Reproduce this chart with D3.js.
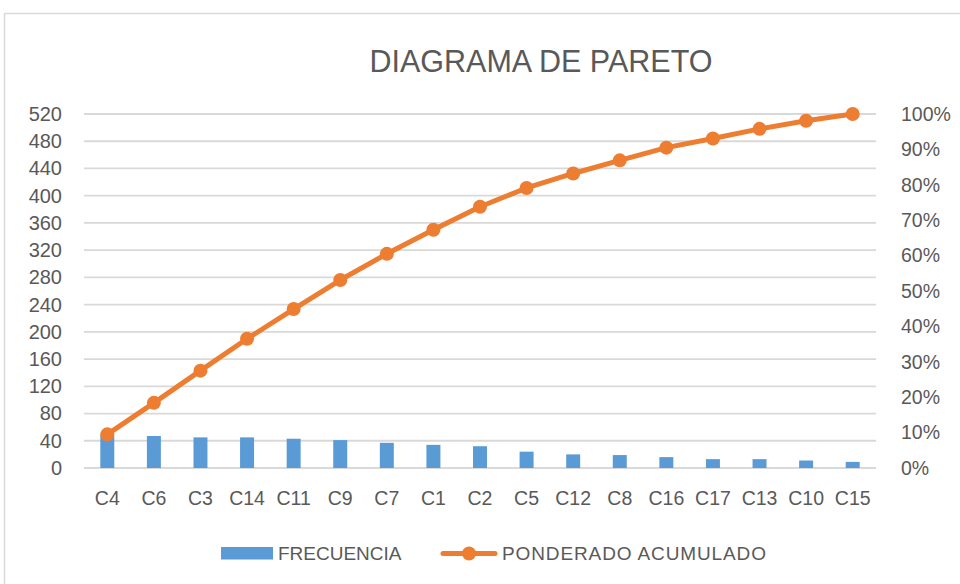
<!DOCTYPE html>
<html>
<head>
<meta charset="utf-8">
<script src="https://cdn.jsdelivr.net/npm/d3@7"></script>
<style>
  body { margin: 0; background: #fff; }
  text { font-family: "Liberation Sans", Arial, sans-serif; fill: #595959; }
</style>
</head>
<body>
<div id="chart"></div>
<script>
// Data
var categories = ["C4", "C6", "C3", "C14", "C11", "C9", "C7", "C1", "C2",
                  "C5", "C12", "C8", "C16", "C17", "C13", "C10", "C15"];
var frecuencia = [48, 47, 45, 45, 43, 41, 37, 34, 32, 24, 20, 19, 16, 13, 13, 11, 9];
var acumulado = [0.095, 0.184, 0.275, 0.365, 0.449, 0.531, 0.605, 0.673, 0.738,
                 0.791, 0.832, 0.869, 0.905, 0.931, 0.958, 0.981, 1.0];
var leftTicks = d3.range(0, 521, 40);
var rightTicks = d3.range(0, 1.001, 0.1);

var width = 960,
    height = 584,
    plot = { left: 84, right: 876, top: 114, bottom: 468 };

var barColor = "#5B9BD5",
    lineColor = "#ED7D31",
    gridColor = "#D9D9D9";

var svg = d3.select("#chart").append("svg")
    .attr("width", width)
    .attr("height", height);

// chart frame
svg.append("rect")
    .attr("x", 4.5)
    .attr("y", 13.5)
    .attr("width", 970)
    .attr("height", 600)
    .attr("fill", "#fff")
    .attr("stroke", gridColor)
    .attr("stroke-width", 1.5);

var x = d3.scaleBand()
    .domain(categories)
    .range([plot.left, plot.right])
    .paddingInner(0.7)
    .paddingOuter(0.35);

var y = d3.scaleLinear()
    .domain([0, 520])
    .range([plot.bottom, plot.top]);

var yPct = d3.scaleLinear()
    .domain([0, 1])
    .range([plot.bottom, plot.top]);

// title
svg.append("text")
    .attr("x", 541)
    .attr("y", 72)
    .attr("text-anchor", "middle")
    .style("font-size", "30.5px")
    .text("DIAGRAMA DE PARETO");

// gridlines
svg.append("g")
  .selectAll("line")
    .data(leftTicks)
  .enter().append("line")
    .attr("x1", plot.left)
    .attr("x2", plot.right)
    .attr("y1", d => y(d))
    .attr("y2", d => y(d))
    .attr("stroke", gridColor)
    .attr("stroke-width", 1.8);

// left axis
var leftAxis = svg.append("g")
    .attr("transform", "translate(" + plot.left + ",0)")
    .call(d3.axisLeft(y).tickValues(leftTicks).tickSize(0).tickPadding(22));
leftAxis.select(".domain").remove();
leftAxis.selectAll("text")
    .style("font-size", "20px")
    .style("font-family", "'Liberation Sans', Arial, sans-serif")
    .attr("fill", "#595959");

// right axis
var rightAxis = svg.append("g")
    .attr("transform", "translate(" + plot.right + ",0)")
    .call(d3.axisRight(yPct).tickValues(rightTicks).tickSize(0).tickPadding(25)
      .tickFormat(d3.format(".0%")));
rightAxis.select(".domain").remove();
rightAxis.selectAll("text")
    .style("font-size", "19.5px")
    .style("font-family", "'Liberation Sans', Arial, sans-serif")
    .attr("fill", "#595959");

// bottom axis labels
var bottomAxis = svg.append("g")
    .attr("transform", "translate(0," + plot.bottom + ")")
    .call(d3.axisBottom(x).tickSize(0).tickPadding(23));
bottomAxis.select(".domain").remove();
bottomAxis.selectAll("text")
    .style("font-size", "19.5px")
    .style("font-family", "'Liberation Sans', Arial, sans-serif")
    .attr("fill", "#595959");

// bars
svg.append("g")
  .selectAll("rect")
    .data(frecuencia)
  .enter().append("rect")
    .attr("x", (d, i) => x(categories[i]))
    .attr("y", d => y(d))
    .attr("width", x.bandwidth())
    .attr("height", d => y(0) - y(d))
    .attr("fill", barColor);

// cumulative line
var line = d3.line()
    .x((d, i) => x(categories[i]) + x.bandwidth() / 2)
    .y(d => yPct(d));

svg.append("path")
    .datum(acumulado)
    .attr("d", line)
    .attr("fill", "none")
    .attr("stroke", lineColor)
    .attr("stroke-width", 5)
    .attr("stroke-linejoin", "round");

svg.append("g")
  .selectAll("circle")
    .data(acumulado)
  .enter().append("circle")
    .attr("cx", (d, i) => x(categories[i]) + x.bandwidth() / 2)
    .attr("cy", d => yPct(d))
    .attr("r", 7)
    .attr("fill", lineColor);

// legend
var legend = svg.append("g");
legend.append("rect")
    .attr("x", 221)
    .attr("y", 547)
    .attr("width", 52)
    .attr("height", 12.5)
    .attr("fill", barColor);
legend.append("text")
    .attr("x", 278)
    .attr("y", 560)
    .style("font-size", "19px")
    .text("FRECUENCIA");
legend.append("line")
    .attr("x1", 443)
    .attr("x2", 495)
    .attr("y1", 553.5)
    .attr("y2", 553.5)
    .attr("stroke", lineColor)
    .attr("stroke-width", 5)
    .attr("stroke-linecap", "round");
legend.append("circle")
    .attr("cx", 469)
    .attr("cy", 553.5)
    .attr("r", 7)
    .attr("fill", lineColor);
legend.append("text")
    .attr("x", 502)
    .attr("y", 560)
    .attr("textLength", 264)
    .attr("lengthAdjust", "spacing")
    .style("font-size", "19px")
    .text("PONDERADO ACUMULADO");
</script>
</body>
</html>
